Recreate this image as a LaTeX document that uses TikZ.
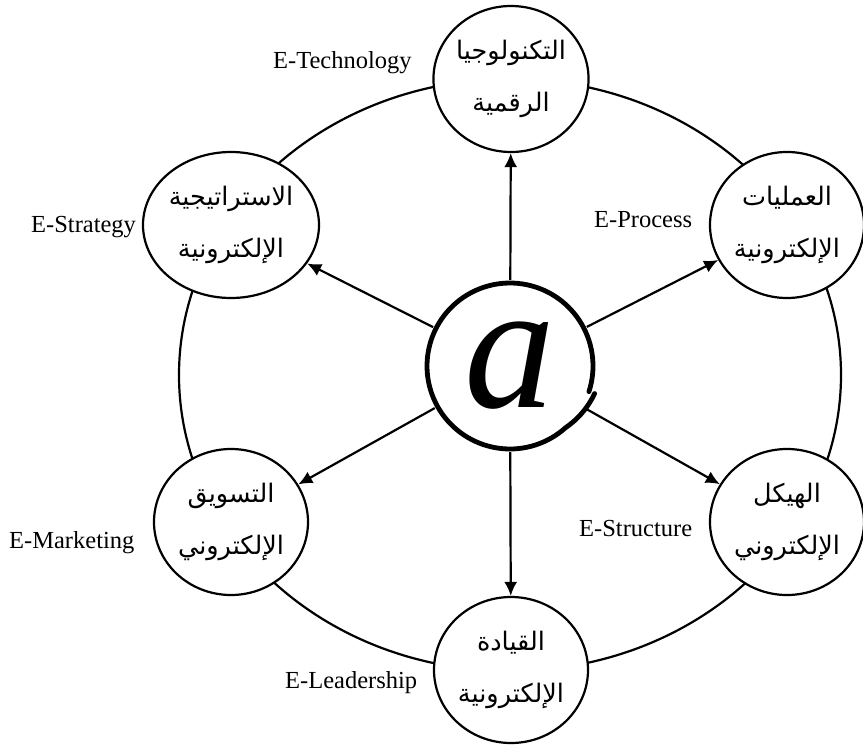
\documentclass[tikz,border=0pt]{standalone}
\usepackage{fontspec}
\setmainfont{Liberation Serif}
\newfontfamily\arabicfont[Script=Arabic]{DejaVu Sans}
\TeXXeTstate=1
\usetikzlibrary{arrows.meta,shapes.geometric}

\tikzset{
  topic/.style={ellipse, draw, line width=2.2pt, fill=white,
    minimum width=154pt, minimum height=146pt, inner sep=0pt,
    align=center, font=\arabicfont\fontsize{25.5}{52}\selectfont},
  hubnode/.style={circle, minimum size=172pt, inner sep=0pt},
  ring/.style={line width=2.2pt},
  atring/.style={line width=4.8pt},
  arr/.style={line width=2.2pt, -{Latex[length=14pt,width=13pt]}},
  tag/.style={anchor=base west, inner sep=0pt, font=\fontsize{24.5}{28}\selectfont}
}

\begin{document}
\begin{tikzpicture}[x=1pt,y=-1pt]
  \useasboundingbox (0,0) rectangle (863,747);

  % outer ring linking the six fields
  \draw[ring] (510,375) ellipse [x radius=331pt, y radius=296pt];

  % the six fields
  \node[topic] (T)  at (511,79)  {\beginR التكنولوجيا\endR\\\beginR الرقمية\endR};
  \node[topic] (UR) at (787,225) {\beginR العمليات\endR\\\beginR الإلكترونية\endR};
  \node[topic] (LR) at (787,522) {\beginR الهيكل\endR\\\beginR الإلكتروني\endR};
  \node[topic] (B)  at (511,670) {\beginR القيادة\endR\\\beginR الإلكترونية\endR};
  \node[topic] (LL) at (231,522) {\beginR التسويق\endR\\\beginR الإلكتروني\endR};
  \node[topic] (UL) at (231,225) {\beginR الاستراتيجية\endR\\\beginR الإلكترونية\endR};

  % central @ sign: italic a inside an open ring with a flared tail
  \node[hubnode] (hub) at (510,366) {};
  \node[inner sep=0pt, font=\fontsize{182}{182}\selectfont\itshape] (ahub) at (510,366) {a};
  \draw[atring, line cap=round] plot[domain=-18:342, samples=120, smooth]
    ({510+(83+6*max(0,(\x-312)/30))*cos(\x)}, {366-(83+6*max(0,(\x-312)/30))*sin(\x)});

  % arrows from the centre
  \foreach \t in {T,UR,LR,B,LL,UL}
    \draw[arr] (hub) -- (\t);

  % English labels
  \node[tag] (lT)  at (273,68)  {E-Technology};
  \node[tag] (lUR) at (594,227) {E-Process};
  \node[tag] (lUL) at (31,232)  {E-Strategy};
  \node[tag] (lLL) at (9,548)   {E-Marketing};
  \node[tag] (lB)  at (285,688) {E-Leadership};
  \node[tag] (lLR) at (579,536) {E-Structure};
\end{tikzpicture}
\end{document}
